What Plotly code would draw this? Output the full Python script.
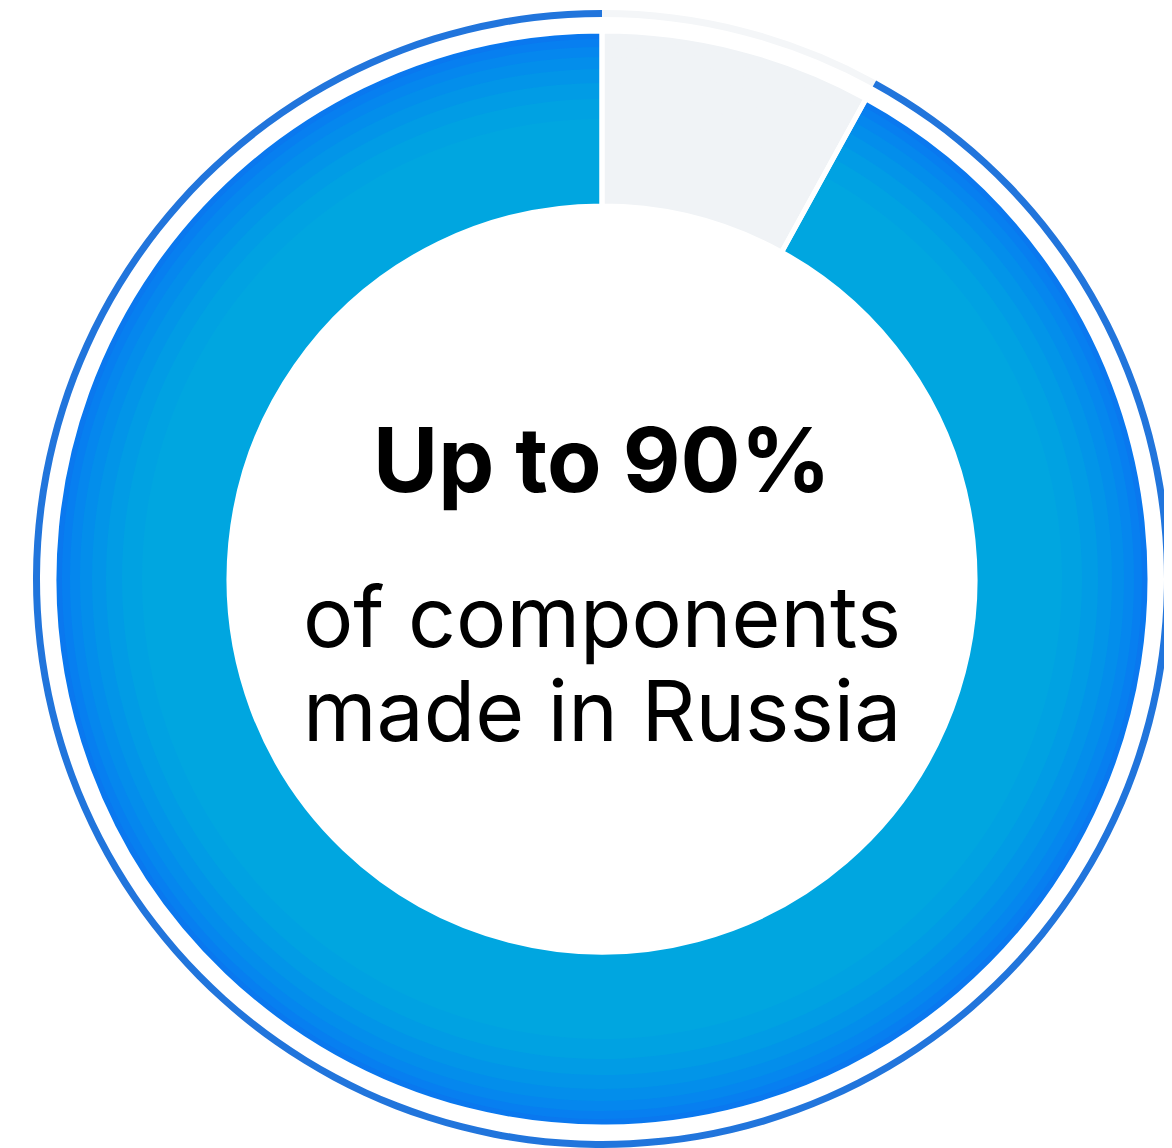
import plotly.graph_objects as go

# Data
labels = ["Other", "Made in Russia"]
values = [8, 92]

W, H = 1172, 1148
OFF = 8  # page body margin offset
CX, CY = 602 - OFF, 579 - OFF  # center in figure pixels (from top)

BLUE_RING = "#2175dc"
GRAY = "#f0f3f6"
GRAY_RING = "#f4f6f8"

fig = go.Figure()


def domain(r):
    return dict(
        x=[max(0, (CX - r) / W), min(1, (CX + r) / W)],
        y=[max(0, (H - CY - r) / H), min(1, (H - CY + r) / H)],
    )


def add_ring(r_out, r_in, colors, line_w=0):
    fig.add_trace(go.Pie(
        labels=labels, values=values, sort=False, direction="clockwise",
        rotation=0, hole=r_in / r_out, domain=domain(r_out),
        marker=dict(colors=colors, line=dict(color="white", width=line_w)),
        textinfo="none", hoverinfo="label+percent", showlegend=False,
    ))

# outer thin ring
add_ring(569, 562, [GRAY_RING, BLUE_RING], 0)

# main donut with radial gradient simulated by stacked rings
grad = [
    (548, "#0a78ef"),
    (540, "#077ff0"),
    (532, "#0587ee"),
    (522, "#038eeb"),
    (510, "#0295e8"),
    (496, "#019ce5"),
    (480, "#00a2e2"),
    (460, "#00a6e0"),
]
for r, c in grad:
    add_ring(r, 373, [GRAY, c], 0)

# white separators on top
fig.add_trace(go.Pie(
    labels=labels, values=values, sort=False, direction="clockwise",
    rotation=0, hole=373 / 548, domain=domain(548),
    marker=dict(colors=["rgba(0,0,0,0)", "rgba(0,0,0,0)"],
                line=dict(color="white", width=5)),
    textinfo="none", hoverinfo="skip", showlegend=False,
))

FONT = "Inter"
fig.add_annotation(
    x=CX / W, y=(H - (459 - OFF)) / H, xref="paper", yref="paper",
    text="<b>Up to 90%</b>", showarrow=False, xanchor="center", yanchor="middle",
    font=dict(family=FONT, size=89, color="#000000"),
)
fig.add_annotation(
    x=CX / W, y=(H - (616 - OFF)) / H, xref="paper", yref="paper",
    text="of components", showarrow=False, xanchor="center", yanchor="middle",
    font=dict(family=FONT, size=84, color="#000000"),
)
fig.add_annotation(
    x=CX / W, y=(H - (710 - OFF)) / H, xref="paper", yref="paper",
    text="made in Russia", showarrow=False, xanchor="center", yanchor="middle",
    font=dict(family=FONT, size=84, color="#000000"),
)

fig.update_layout(
    width=W, height=H, margin=dict(l=0, r=0, t=0, b=0),
    paper_bgcolor="white", plot_bgcolor="white", showlegend=False,
)

fig.write_html("out.html")
